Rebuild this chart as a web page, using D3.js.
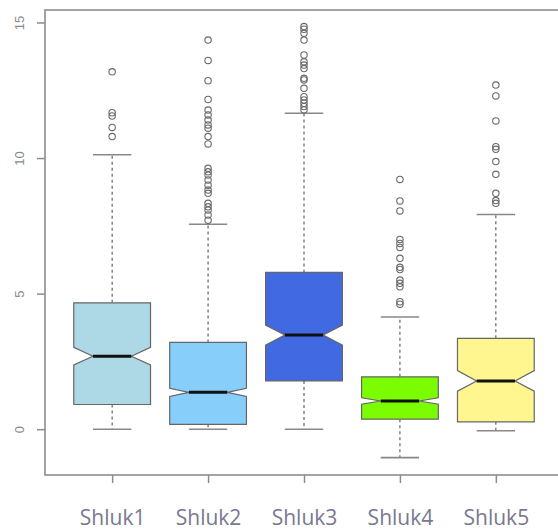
<!DOCTYPE html>
<html>
<head>
<meta charset="utf-8">
<script src="https://cdn.jsdelivr.net/npm/d3@7/dist/d3.min.js"></script>
<style>
  html, body { margin: 0; padding: 0; background: #fff; }
  svg { display: block; }
</style>
</head>
<body>
<svg id="chart" width="558" height="530"></svg>
<script>
// Cluster names and box colours
const categories = ["Shluk1", "Shluk2", "Shluk3", "Shluk4", "Shluk5"];
const fills = ["#add8e6", "#87cefa", "#4169e1", "#7cfc00", "#fff68f"];

// Five-number summaries per cluster
const whiskerLow  = [0.00, 0.00, 0.00, -1.05, -0.06];
const quart1      = [0.91, 0.18, 1.78, 0.37, 0.27];
const medians     = [2.69, 1.36, 3.47, 1.04, 1.78];
const quart3      = [4.66, 3.20, 5.78, 1.93, 3.35];
const whiskerHigh = [10.12, 7.56, 11.65, 4.14, 7.92];

// Notch limits around the median
const notchLow  = [2.37, 1.21, 3.10, 0.92, 1.40];
const notchHigh = [3.02, 1.51, 3.84, 1.16, 2.16];

// Points beyond the whiskers
const outliers = [
  [13.18, 11.67, 11.55, 11.13, 10.79],
  [14.35, 13.6, 12.85, 12.16, 11.77, 11.59, 11.4, 11.22, 11.1, 10.79, 10.52,
   9.62, 9.49, 9.37, 9.19, 9.0, 8.82, 8.7, 8.33, 8.2, 8.08, 7.9, 7.71],
  [14.85, 14.75, 14.6, 14.35, 13.8, 13.55, 13.43, 13.3, 12.94, 12.88, 12.57,
   12.26, 12.14, 12.02, 11.9, 11.78],
  [9.21, 8.42, 8.05, 7.0, 6.85, 6.7, 6.3, 5.97, 5.89, 5.5, 5.38, 5.25, 4.7, 4.61],
  [12.69, 12.29, 11.37, 10.42, 10.32, 9.87, 9.4, 8.7, 8.43, 8.33]
];

const yTicks = [0, 5, 10, 15];

const svg = d3.select("#chart");

const x = d3.scaleLinear().domain([0.3, 5.7]).range([45, 563]);
const y = d3.scaleLinear().domain([-1.69, 15.46]).range([475, 10]);

const boxHalf = 0.4;   // half box width in category units
const capHalf = 0.2;   // half whisker-cap width
const axisGrey = "#8c8c8c";

// Plot frame
svg.append("rect")
  .attr("x", x(0.3)).attr("y", y(15.46))
  .attr("width", x(5.7) - x(0.3)).attr("height", y(-1.69) - y(15.46))
  .attr("fill", "none").attr("stroke", axisGrey).attr("stroke-width", 1.6);

// Y axis
const yAxis = svg.append("g")
  .attr("transform", `translate(${x(0.3)},0)`)
  .call(d3.axisLeft(y).tickValues(yTicks).tickSize(8).tickPadding(0).tickFormat(d3.format("d")));
yAxis.select(".domain").remove();
yAxis.selectAll(".tick line").attr("stroke", axisGrey).attr("stroke-width", 1.5);
yAxis.selectAll(".tick text")
  .attr("x", 0).attr("dy", 0)
  .attr("transform", "translate(-21,0) rotate(-90)")
  .attr("text-anchor", "middle")
  .attr("fill", "#8a8a8a")
  .style("font-family", "'Liberation Sans', Arial, sans-serif")
  .style("font-size", "13px");

// X axis ticks and labels
const xAxis = svg.append("g")
  .attr("transform", `translate(0,${y(-1.69)})`)
  .call(d3.axisBottom(x).tickValues([1, 2, 3, 4, 5]).tickSize(8).tickPadding(27)
        .tickFormat(d => categories[d - 1]));
xAxis.select(".domain").remove();
xAxis.selectAll(".tick line").attr("stroke", axisGrey).attr("stroke-width", 1.5);
xAxis.selectAll(".tick text")
  .attr("fill", "#78788f")
  .style("font-family", "'Open Sans', sans-serif")
  .style("font-size", "21px");

// Boxes
const groups = svg.selectAll("g.box").data(categories).join("g").attr("class", "box");

groups.each(function(name, i) {
  const g = d3.select(this);
  const c = i + 1;
  const xl = x(c - boxHalf), xr = x(c + boxHalf);
  const xil = x(c - boxHalf / 2), xir = x(c + boxHalf / 2);

  // Whiskers (dashed)
  g.append("line")
    .attr("x1", x(c)).attr("x2", x(c))
    .attr("y1", y(quart3[i])).attr("y2", y(whiskerHigh[i]))
    .attr("stroke", "#555").attr("stroke-width", 1.1).attr("stroke-dasharray", "3,3");
  g.append("line")
    .attr("x1", x(c)).attr("x2", x(c))
    .attr("y1", y(quart1[i])).attr("y2", y(whiskerLow[i]))
    .attr("stroke", "#555").attr("stroke-width", 1.1).attr("stroke-dasharray", "3,3");

  // Whisker caps
  [whiskerHigh[i], whiskerLow[i]].forEach(v => {
    g.append("line")
      .attr("x1", x(c - capHalf)).attr("x2", x(c + capHalf))
      .attr("y1", y(v)).attr("y2", y(v))
      .attr("stroke", "#888").attr("stroke-width", 1.6);
  });

  // Notched box outline
  const pts = [
    [xl, y(quart3[i])], [xr, y(quart3[i])],
    [xr, y(notchHigh[i])], [xir, y(medians[i])], [xr, y(notchLow[i])],
    [xr, y(quart1[i])], [xl, y(quart1[i])],
    [xl, y(notchLow[i])], [xil, y(medians[i])], [xl, y(notchHigh[i])]
  ];
  g.append("path")
    .attr("d", d3.line()(pts) + "Z")
    .attr("fill", fills[i])
    .attr("stroke", "#666").attr("stroke-width", 1.2);

  // Median
  g.append("line")
    .attr("x1", xil).attr("x2", xir)
    .attr("y1", y(medians[i])).attr("y2", y(medians[i]))
    .attr("stroke", "#111").attr("stroke-width", 3);

  // Outliers
  g.selectAll("circle").data(outliers[i]).join("circle")
    .attr("cx", x(c)).attr("cy", d => y(d)).attr("r", 3.2)
    .attr("fill", "none").attr("stroke", "#6a6a6a").attr("stroke-width", 1.1);
});
</script>
</body>
</html>
